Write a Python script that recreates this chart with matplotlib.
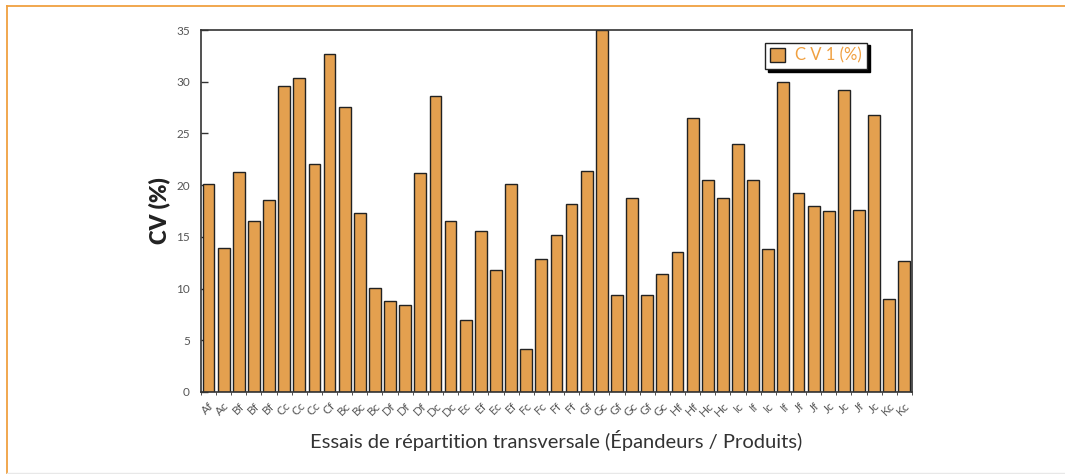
"""Bar chart of CV (%) per spreading trial, rendered to out.png."""
import matplotlib
matplotlib.use("Agg")
import matplotlib.pyplot as plt
import numpy as np
from matplotlib.lines import Line2D

# trial labels (spreader letter + product letter)
LABELS = ["Af", "Ac", "Bf", "Bf", "Bf", "Cc", "Cc", "Cc", "Cf", "Bc", "Bc", "Bc",
          "Df", "Df", "Df", "Dc", "Dc", "Ec", "Ef", "Ec", "Ef", "Fc", "Fc", "Ff",
          "Ff", "Gf", "Gc", "Gf", "Gc", "Gf", "Gc", "Hf", "Hf", "Hc", "Hc", "Ic",
          "If", "Ic", "If", "Jf", "Jf", "Jc", "Jc", "Jf", "Jc", "Kc", "Kc"]

CV1 = [20.1, 13.9, 21.3, 16.5, 18.6, 29.6, 30.4, 22.0, 32.7, 27.6, 17.3, 10.1,
       8.8, 8.4, 21.2, 28.6, 16.5, 7.0, 15.6, 11.8, 20.1, 4.2, 12.9, 15.2,
       18.2, 21.4, 35.0, 9.4, 18.8, 9.4, 11.4, 13.5, 26.5, 20.5, 18.8, 24.0,
       20.5, 13.8, 30.0, 19.2, 18.0, 17.5, 29.2, 17.6, 26.8, 9.0, 12.7]

Y_TICKS = [0, 5, 10, 15, 20, 25, 30, 35]

BAR = "#e4a04f"
ORANGE = "#f0a040"
GREY = "#555555"

plt.rcParams["font.family"] = ["Lato", "DejaVu Sans"]

fig = plt.figure(figsize=(10.65, 4.74), dpi=100)
ax = fig.add_axes([0.1887, 0.173, 0.6676, 0.7637])

x = np.arange(len(CV1))
ax.bar(x, CV1, width=0.78, color=BAR, edgecolor="#222222", linewidth=1.0,
       label="C V 1 (%)", zorder=2)

ax.set_xlim(-0.5, len(CV1) - 0.5)
ax.set_ylim(0, 35)
ax.set_yticks(Y_TICKS)
ax.tick_params(axis="y", direction="in", length=5, width=1, color="#333333",
               labelsize=8.5, labelcolor=GREY, pad=8)
ax.set_xticks(x)
ax.set_xticklabels(LABELS, rotation=45, ha="right", rotation_mode="anchor",
                   fontsize=8.5, color=GREY)
ax.tick_params(axis="x", length=0, pad=6)
ax.set_xticks(np.arange(-0.5, len(CV1), 1), minor=True)
ax.tick_params(axis="x", which="minor", direction="out", length=2,
               color="#333333")

for sp in ax.spines.values():
    sp.set_color("#333333")
    sp.set_linewidth(1.2)

ax.set_ylabel("CV (%)", fontsize=16, fontweight="heavy", color="#222222",
              labelpad=4)
ax.set_xlabel("Essais de répartition transversale (Épandeurs / Produits)",
              fontsize=14.5, color="#333333", labelpad=8)

leg = ax.legend(loc="upper right", bbox_to_anchor=(0.937, 0.965),
                fancybox=False, frameon=True, edgecolor="#222222",
                shadow={"color": "black", "alpha": 1.0},
                handlelength=0.9, handleheight=0.9, handletextpad=0.6,
                borderpad=0.3, fontsize=12, borderaxespad=0)
leg.get_frame().set_linewidth(1.0)
for t in leg.get_texts():
    t.set_color(ORANGE)

# outer frame of the figure box
fig.add_artist(Line2D([7 / 1065, 1], [1 - 6 / 474, 1 - 6 / 474],
                      transform=fig.transFigure, color=ORANGE, linewidth=1.3))
fig.add_artist(Line2D([7 / 1065, 7 / 1065], [0, 1 - 6 / 474],
                      transform=fig.transFigure, color=ORANGE, linewidth=1.3))
fig.add_artist(Line2D([7 / 1065, 1], [1.5 / 474, 1.5 / 474],
                      transform=fig.transFigure, color="#e8e8e8", linewidth=1))

fig.savefig("out.png", dpi=100)
